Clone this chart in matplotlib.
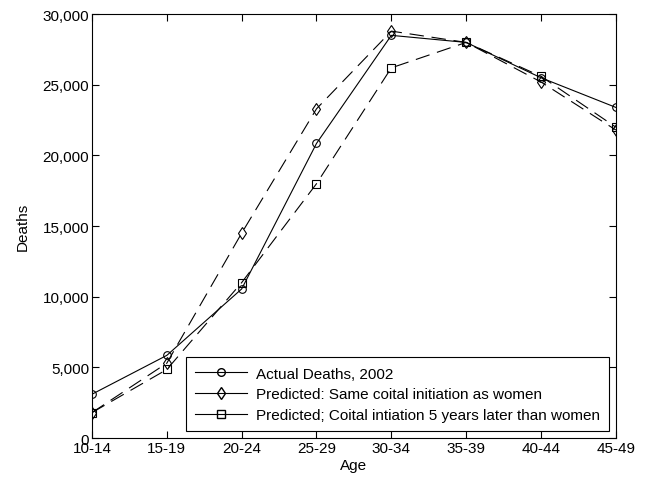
import matplotlib
matplotlib.use("Agg")
import matplotlib.pyplot as plt
from matplotlib.lines import Line2D
from matplotlib.ticker import FuncFormatter

plt.rcParams['font.family'] = ['Liberation Sans', 'DejaVu Sans']

ages = ["10-14", "15-19", "20-24", "25-29", "30-34", "35-39", "40-44", "45-49"]
actual = [3100, 5850, 10550, 20850, 28500, 28000, 25500, 23400]
same = [1800, 5300, 14500, 23300, 28800, 28000, 25200, 21800]
later = [1800, 4850, 11000, 18000, 26200, 28000, 25600, 22000]
labels = ["Actual Deaths, 2002",
          "Predicted: Same coital initiation as women",
          "Predicted; Coital intiation 5 years later than women"]

fs = 11
fig = plt.figure(figsize=(6.51, 4.89), dpi=100)
ax = fig.add_axes([0.1413, 0.1022, 0.8047, 0.8668])
x = list(range(len(ages)))
ms = 5.5
ax.plot(x, actual, '-', color='black', lw=0.8, marker='o', ms=ms, mfc='none', mec='black', mew=0.8)
ax.plot(x, same, color='black', lw=0.8, dashes=(13, 7), marker='d', ms=ms + 1, mfc='none', mec='black', mew=0.8)
ax.plot(x, later, color='black', lw=0.8, dashes=(13, 7), marker='s', ms=ms, mfc='none', mec='black', mew=0.8)

ax.set_xlim(0, len(ages) - 1)
ax.set_ylim(0, 30000)
ax.set_xticks(x)
ax.set_xticklabels(ages)
ax.set_yticks(range(0, 30001, 5000))
ax.yaxis.set_major_formatter(FuncFormatter(lambda v, p: f"{int(v):,}"))
ax.tick_params(direction='in', top=True, right=True, length=5, width=0.8, labelsize=fs, pad=2)
for s in ax.spines.values():
    s.set_linewidth(0.8)
ax.set_xlabel("Age", fontsize=fs, labelpad=2)
ax.set_ylabel("Deaths", fontsize=fs, labelpad=9)

handles = [
    Line2D([], [], color='black', lw=0.8, marker='o', ms=ms, mfc='none', mec='black'),
    Line2D([], [], color='black', lw=0.8, marker='d', ms=ms + 1, mfc='none', mec='black'),
    Line2D([], [], color='black', lw=0.8, marker='s', ms=ms, mfc='none', mec='black'),
]
leg = ax.legend(handles, labels, loc='lower right', fontsize=fs, fancybox=False,
                edgecolor='black', framealpha=1, borderaxespad=0.45, handlelength=3.4,
                labelspacing=0.44, borderpad=0.6, handletextpad=0.6)
leg.get_frame().set_linewidth(0.8)

fig.savefig("out.png", dpi=100)
